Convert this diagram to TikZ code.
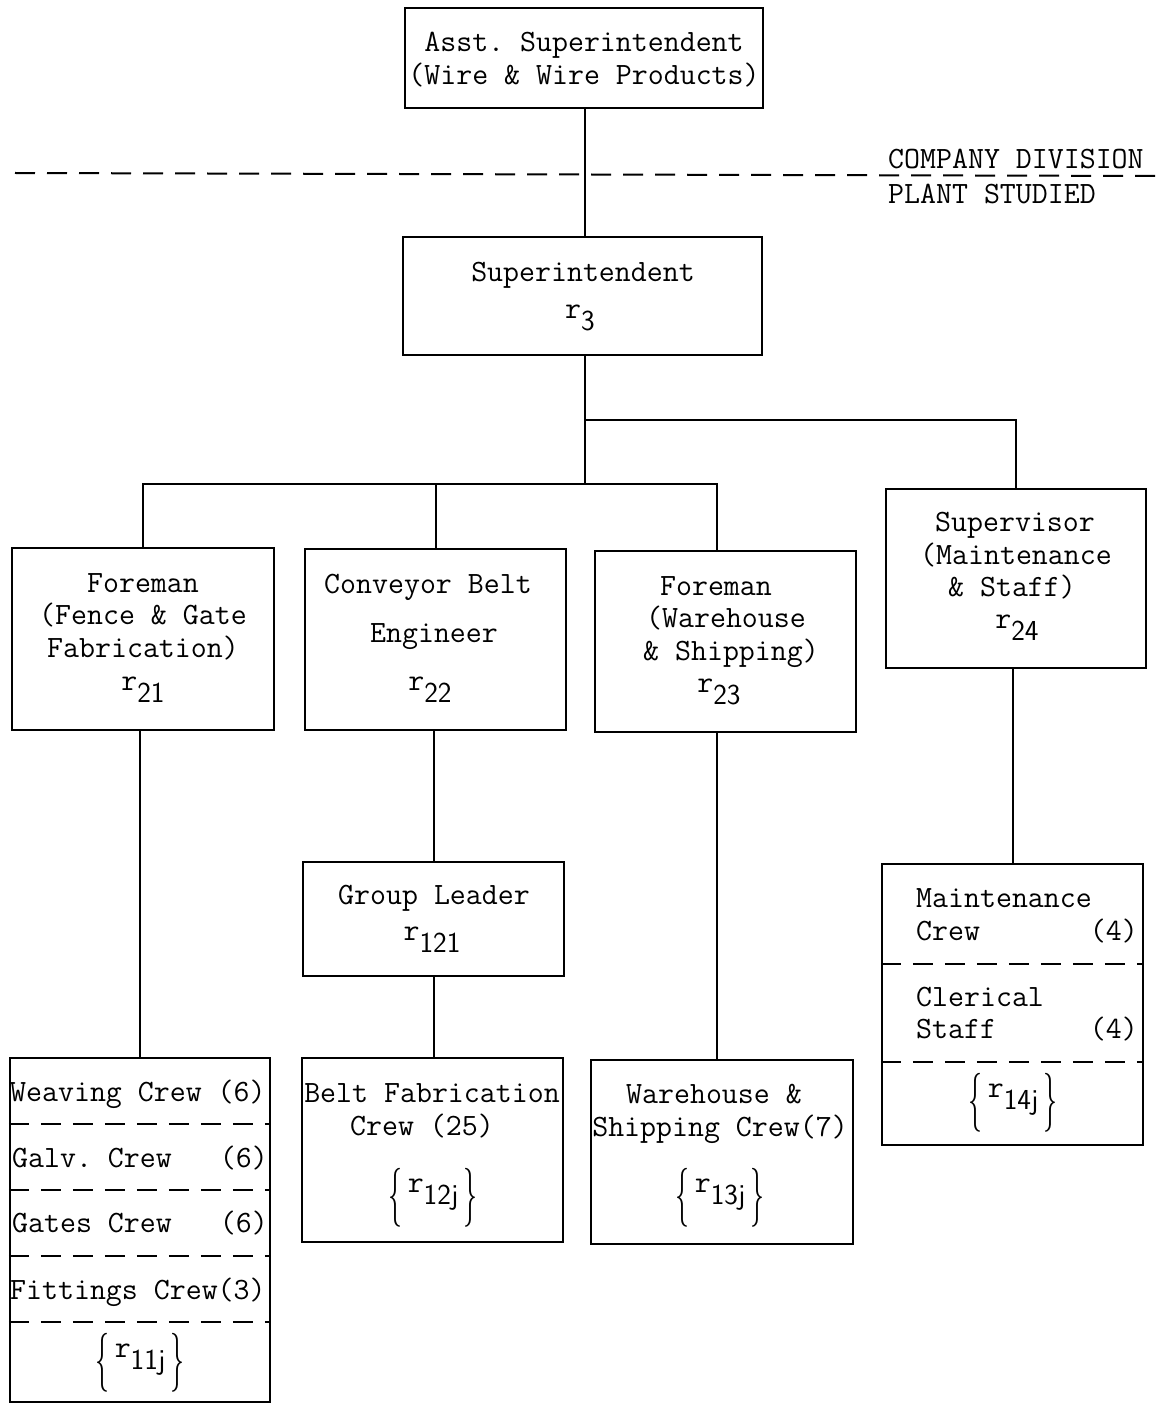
\documentclass[tikz,border=0pt]{standalone}
\usepackage{fontspec}
\usepackage{graphicx}
\newfontfamily\tw{Latin Modern Mono}
\newfontfamily\twsans{Latin Modern Sans}
\newfontfamily\brfont{Latin Modern Roman}
\newcommand{\rsub}[1]{\raisebox{6pt}{r}\raisebox{-6pt}{\fontsize{29}{29}\twsans #1}}
\newcommand{\rset}[1]{\raisebox{-14pt}{\scalebox{0.9}[1.9]{\brfont\{}}\,\rsub{#1}\,\raisebox{-14pt}{\scalebox{0.9}[1.9]{\brfont\}}}}
\begin{document}
\begin{tikzpicture}[x=1pt,y=-1pt,
  box/.style={draw, line width=2.4pt, inner sep=0pt},
  conn/.style={line width=2pt},
  sep/.style={line width=2pt, dash pattern=on 20pt off 12pt},
  txt/.style={font=\fontsize{31}{33}\selectfont\tw\frenchspacing, inner sep=0pt, text height=19.5pt, text depth=0pt},
  brc/.style={font=\fontsize{31}{33}\selectfont\tw, inner sep=0pt}]
\useasboundingbox (0,0) rectangle (1166,1404);

% boxes
\node[box, minimum width=358pt, minimum height=100pt] (A) at (584,58) {};
\node[box, minimum width=359pt, minimum height=118pt] (S) at (582.5,296) {};
\node[box, minimum width=262pt, minimum height=182pt] (F1) at (143,639) {};
\node[box, minimum width=261pt, minimum height=181pt] (CBE) at (435.5,639.5) {};
\node[box, minimum width=261pt, minimum height=181pt] (F3) at (725.5,641.5) {};
\node[box, minimum width=260pt, minimum height=179pt] (SUP) at (1016,578.5) {};
\node[box, minimum width=261pt, minimum height=114pt] (GL) at (433.5,919) {};
\node[box, minimum width=260pt, minimum height=344pt] (LC) at (140,1230) {};
\node[box, minimum width=261pt, minimum height=184pt] (BC) at (432.5,1150) {};
\node[box, minimum width=262pt, minimum height=184pt] (WC) at (722,1152) {};
\node[box, minimum width=261pt, minimum height=281pt] (MC) at (1012.5,1004.5) {};

% dividing line
\coordinate (dl) at (15,173);
\coordinate (dr) at (1166,176);
\draw[sep] (dl) -- (dr);
\node[txt, anchor=west] (cd) at (888,159) {COMPANY DIVISION};
\node[txt, anchor=west] (ps) at (888,194) {PLANT STUDIED};

% connectors
\coordinate (j0) at (585,420);
\coordinate (j1) at (585,484);
\coordinate (c3) at (717,484);
\draw[conn] (A.south -| j0) -- (S.north -| j0);
\draw[conn] (S.south -| j0) -- (j1);
\draw[conn] (j0) -| (SUP.north);
\draw[conn] (F1.north) |- (j1) -- (c3) -- (c3 |- F3.north);
\draw[conn] (CBE.north) -- (CBE.north |- j1);
\draw[conn] (LC.north |- F1.south) -- (LC.north);
\draw[conn] (GL.north |- CBE.south) -- (GL.north);
\draw[conn] (GL.south) -- (GL.south |- BC.north);
\draw[conn] (c3 |- F3.south) -- (c3 |- WC.north);
\draw[conn] (MC.north |- SUP.south) -- (MC.north);

% separators
\draw[sep] (LC.west |- 0,1124) -- (LC.east |- 0,1124);
\draw[sep] (LC.west |- 0,1190) -- (LC.east |- 0,1190);
\draw[sep] (LC.west |- 0,1256) -- (LC.east |- 0,1256);
\draw[sep] (LC.west |- 0,1322) -- (LC.east |- 0,1322);
\draw[sep] (MC.west |- 0,964) -- (MC.east |- 0,964);
\draw[sep] (MC.west |- 0,1062) -- (MC.east |- 0,1062);

% texts
\node[txt] (a1) at (584,42) {Asst. Superintendent};
\node[txt] (a2) at (584,75) {(Wire \& Wire Products)};
\node[txt] (s1) at (583,272) {Superintendent};
\node[txt] (s2) at (580,315) {\rsub{3}};

\node[txt] (f11) at (143,583) {Foreman};
\node[txt] (f12) at (143,615) {(Fence \& Gate};
\node[txt] (f13) at (143,648) {Fabrication)};
\node[txt] (f14) at (143,687) {\rsub{21}};

\node[txt] (e1) at (428,584) {Conveyor Belt};
\node[txt] (e2) at (434,633) {Engineer};
\node[txt] (e3) at (430,687) {\rsub{22}};

\node[txt] (f31) at (716,586) {Foreman};
\node[txt] (f32) at (726,618) {(Warehouse};
\node[txt] (f33) at (731,651) {\& Shipping)};
\node[txt] (f34) at (719,689) {\rsub{23}};

\node[txt] (p1) at (1015,522) {Supervisor};
\node[txt] (p2) at (1016,555) {(Maintenance};
\node[txt] (p3) at (1012,587) {\& Staff)};
\node[txt] (p4) at (1017,625) {\rsub{24}};

\node[txt] (g1) at (434,895) {Group Leader};
\node[txt] (g2) at (432,937) {\rsub{121}};

\node[txt] (b1) at (432,1093) {Belt Fabrication};
\node[txt] (b2) at (422,1126) {Crew (25)};
\node[brc] (b3) at (433,1198) {\rset{12j}};

\node[txt] (w1) at (714,1094) {Warehouse \&};
\node[txt] (w2) at (720,1127) {Shipping Crew(7)};
\node[brc] (w3) at (720,1198) {\rset{13j}};

\node[txt, anchor=west] (m1) at (916,898) {Maintenance};
\node[txt, anchor=west] (m2) at (916,931) {Crew};
\node[txt, anchor=east] (m3) at (1138,931) {(4)};
\node[txt, anchor=west] (m4) at (916,997) {Clerical};
\node[txt, anchor=west] (m5) at (916,1029) {Staff};
\node[txt, anchor=east] (m6) at (1138,1029) {(4)};
\node[brc] (m7) at (1013,1103) {\rset{14j}};

\node[txt, anchor=west] (l1) at (10,1092) {Weaving Crew (6)};
\node[txt, anchor=west] (l2) at (12,1158) {Galv. Crew};
\node[txt, anchor=east] (l3) at (268,1158) {(6)};
\node[txt, anchor=west] (l4) at (12,1223) {Gates Crew};
\node[txt, anchor=east] (l5) at (268,1223) {(6)};
\node[txt, anchor=west] (l6) at (10,1290) {Fittings Crew(3)};
\node[brc] (l7) at (140,1363) {\rset{11j}};
\end{tikzpicture}
\end{document}
